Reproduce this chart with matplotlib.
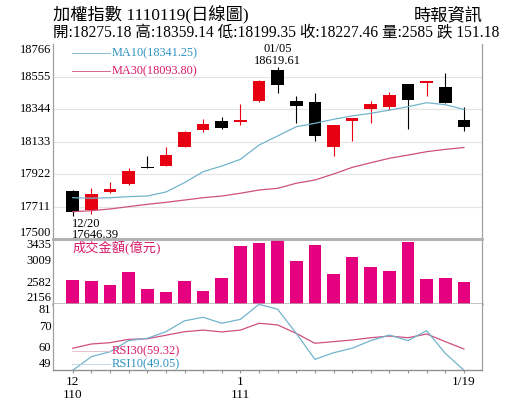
import matplotlib.pyplot as plt
import matplotlib.transforms as mtransforms

plt.rcParams['font.family'] = ['Liberation Serif', 'Noto Sans CJK TC']

dates = ['12/20', '12/21', '12/22', '12/23', '12/24', '12/27', '12/28', '12/29', '12/30',
         '01/03', '01/04', '01/05', '01/06', '01/07', '01/10', '01/11', '01/12', '01/13',
         '01/14', '01/17', '01/18', '01/19']
opens = [17812, 17688, 17805, 17857, 17967, 17976, 18099, 18208, 18268, 18260, 18396,
         18597, 18394, 18387, 18095, 18264, 18346, 18355, 18506, 18511, 18489, 18275.18]
highs = [17815, 17829, 17868, 17961, 18039, 18099, 18198, 18281, 18290, 18376, 18530,
         18619.61, 18428, 18446, 18240, 18288, 18398, 18452, 18508, 18528, 18576, 18359.14]
lows = [17646.39, 17662, 17800, 17852, 17959, 17974, 18097, 18193, 18217, 18238, 18390,
        18446, 18255, 18134, 18041, 18134, 18251, 18337, 18212, 18430, 18381, 18199.35]
closes = [17673, 17790, 17827, 17943, 17964, 18045, 18195, 18247, 18219, 18270, 18526,
          18500, 18366, 18169, 18238, 18286, 18375, 18435, 18402, 18526, 18381, 18227.46]
ma10 = [17768, 17765, 17768, 17775, 17779, 17805, 17866, 17937, 17974, 18017, 18110,
        18169, 18229, 18251, 18277, 18299, 18316, 18337, 18359, 18385, 18372, 18341.25]
ma30 = [17677, 17684, 17695, 17710, 17725, 17738, 17753, 17768, 17779, 17797, 17818,
        17829, 17862, 17883, 17922, 17965, 17995, 18024, 18045, 18067, 18082, 18093.80]
volume = [2632, 2618, 2534, 2789, 2450, 2391, 2618, 2416, 2665, 3304, 3351,
          3435, 3010, 3317, 2743, 3088, 2892, 2808, 3382, 2646, 2677, 2585]
rsi30 = [59.7, 61.75, 62.4, 64.0, 64.3, 66.0, 67.7, 68.5, 67.6, 68.5, 71.8,
         71.0, 66.9, 62.1, 62.9, 63.7, 64.8, 65.6, 64.8, 66.6, 62.9, 59.32]
rsi10 = [49.0, 55.6, 58.0, 63.4, 64.5, 67.7, 73.0, 74.7, 71.8, 73.7, 81.0,
         78.6, 66.9, 54.3, 57.5, 59.7, 63.4, 66.1, 63.4, 68.2, 57.2, 49.05]
change = 151.18

price_ticks = [17500, 17711, 17922, 18133, 18344, 18555, 18766]
vol_ticks = [2156, 2582, 3009, 3435]
rsi_ticks = [49, 60, 70, 81]

RED = '#e60012'
MA10_C = '#72b4cc'
MA30_C = '#cf4f7f'
BLUE_T = '#2e93c0'
PINK_T = '#d81b6a'
BAR_C = '#e4007f'
EDGE = '#b0b0b0'

x = list(range(len(dates)))
W, H = 515, 413
fig = plt.figure(figsize=(5.15, 4.13), dpi=100)


def box(top, bottom):
    return [53 / W, 1 - bottom / H, (482 - 53) / W, (bottom - top) / H]


ax = fig.add_axes(box(44, 239))
axv = fig.add_axes(box(239, 304.3))
axr = fig.add_axes(box(304.3, 370.3))
ax.set_zorder(3)
ax.patch.set_visible(False)

for a in (ax, axv, axr):
    a.set_xlim(-1.06, 21.97)
    a.tick_params(left=False, labelleft=False)
    for s in ('left', 'right'):
        a.spines[s].set_color('#a0a0a0')
        a.spines[s].set_linewidth(0.9)
    a.spines['top'].set_visible(False)
    a.spines['bottom'].set_color(EDGE)
    a.spines['bottom'].set_linewidth(1.8)

axv.spines['top'].set_visible(True)
axv.spines['top'].set_color(EDGE)
axv.spines['top'].set_linewidth(1.8)
axr.spines['bottom'].set_linewidth(1.0)
axr.spines['bottom'].set_color('#909090')
ax.tick_params(bottom=False, labelbottom=False)
axv.tick_params(bottom=False, labelbottom=False)


def left_labels(a, ticks):
    tr = mtransforms.blended_transform_factory(a.transAxes, a.transData)
    for i, t in enumerate(ticks):
        va = 'bottom' if i == 0 else ('top' if i == len(ticks) - 1 else 'center')
        a.text(-0.004, t, str(t), transform=tr, ha='right', va=va, fontsize=9)


# price panel
ax.set_ylim(price_ticks[0], price_ticks[-1])
for t in price_ticks[1:-1]:
    ax.axhline(t, color='#e4e4e4', lw=0.8, zorder=0)
left_labels(ax, price_ticks)

for i in x:
    up = closes[i] >= opens[i]
    col = RED if up else 'black'
    ax.vlines(i, lows[i], highs[i], color=col, lw=0.8, zorder=2)
    lo = min(opens[i], closes[i])
    hgt = max(abs(closes[i] - opens[i]), 6)
    ax.bar(i, hgt, bottom=lo, width=0.68, color=col, zorder=3)

ax.plot(x, ma10, color=MA10_C, lw=0.9, zorder=4)
ax.plot(x, ma30, color=MA30_C, lw=0.9, zorder=4)

ax.plot([0.044, 0.133], [0.954, 0.954], transform=ax.transAxes, color=MA10_C, lw=0.6)
ax.plot([0.044, 0.133], [0.862, 0.862], transform=ax.transAxes, color=MA30_C, lw=0.6)
ax.text(0.137, 0.954, f'MA10({ma10[-1]:.2f})', transform=ax.transAxes,
        color=BLUE_T, fontsize=8.8, va='center')
ax.text(0.137, 0.862, f'MA30({ma30[-1]:.2f})', transform=ax.transAxes,
        color=PINK_T, fontsize=8.8, va='center')

hi = highs.index(max(highs))
lo_i = lows.index(min(lows))
ax.annotate(f'{dates[hi]}\n{highs[hi]:.2f}', (hi, highs[hi]), xytext=(0, 0),
            textcoords='offset points', ha='center', va='bottom', fontsize=9,
            linespacing=1.0, annotation_clip=False)
ax.annotate(f'{dates[lo_i]}\n{lows[lo_i]:.2f}', (lo_i, lows[lo_i]), xytext=(-0.5, -1),
            textcoords='offset points', ha='left', va='top', fontsize=9,
            linespacing=0.95, annotation_clip=False)

# volume panel
axv.set_ylim(vol_ticks[0], vol_ticks[-1])
axv.bar(x, volume, width=0.68, color=BAR_C)
left_labels(axv, vol_ticks)
axv.text(0.045, 0.86, '成交金額(億元)', transform=axv.transAxes, color=PINK_T,
         fontsize=9.5, va='center')

# rsi panel
axr.set_ylim(rsi_ticks[0], rsi_ticks[-1])
axr.plot(x, rsi30, color=MA30_C, lw=0.9)
axr.plot(x, rsi10, color=MA10_C, lw=0.9)
left_labels(axr, rsi_ticks)
axr.plot([0.044, 0.133], [0.29, 0.29], transform=axr.transAxes, color='#e0b8c8', lw=0.6)
axr.plot([0.044, 0.133], [0.095, 0.095], transform=axr.transAxes, color='#b8d4e0', lw=0.6)
axr.text(0.137, 0.29, f'RSI30({rsi30[-1]:.2f})', transform=axr.transAxes,
         color=PINK_T, fontsize=9, va='center')
axr.text(0.137, 0.095, f'RSI10({rsi10[-1]:.2f})', transform=axr.transAxes,
         color=BLUE_T, fontsize=9, va='center')

xlabels = [''] * len(dates)
xlabels[0] = '12\n110'
xlabels[9] = '1\n111'
xlabels[-1] = '1/19'
axr.set_xticks(x)
axr.set_xticklabels(xlabels, fontsize=9.5, linespacing=1.1)
axr.tick_params(axis='x', length=2, color='#909090', pad=2)

# header
fig.text(53 / W, 1 - 15 / H, '加權指數 1110119(日線圖)', fontsize=12.4, va='center')
fig.text(483 / W, 1 - 16 / H, '時報資訊', fontsize=12.4, va='center', ha='right')
info = (f'開:{opens[-1]:.2f} 高:{highs[-1]:.2f} 低:{lows[-1]:.2f} '
        f'收:{closes[-1]:.2f} 量:{volume[-1]} 跌 {change:.2f}')
fig.text(53 / W, 1 - 33 / H, info, fontsize=11.2, va='center')

fig.savefig('out.png', dpi=100)
